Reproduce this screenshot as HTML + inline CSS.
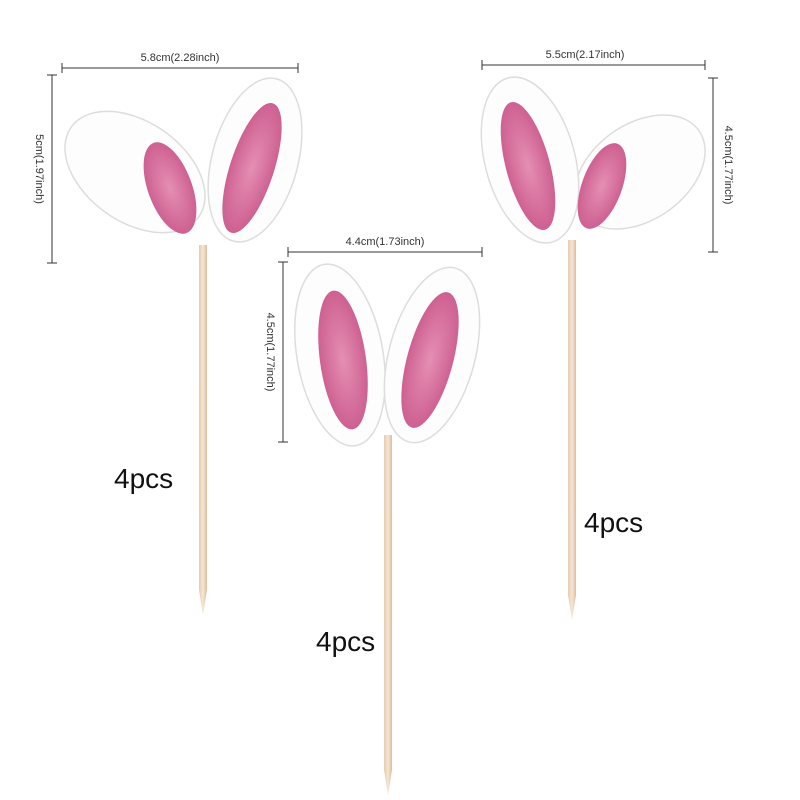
<!DOCTYPE html>
<html><head><meta charset="utf-8"><style>
html,body{margin:0;padding:0;background:#fff;}
svg{display:block;}
text{font-family:"Liberation Sans",sans-serif;}
</style></head><body>
<svg width="800" height="800" viewBox="0 0 800 800" xmlns="http://www.w3.org/2000/svg">
<defs>
<linearGradient id="stick" x1="0" x2="1">
<stop offset="0" stop-color="#e6cbb0"/><stop offset="0.5" stop-color="#f6e6d2"/><stop offset="1" stop-color="#dcbd9f"/>
</linearGradient>
<radialGradient id="pink" cx="0.5" cy="0.5" r="0.6">
<stop offset="0" stop-color="#e58fb4"/><stop offset="1" stop-color="#c9578a"/>
</radialGradient>
</defs>
<g stroke="#333" stroke-width="1" fill="none">
<line x1="62" y1="68" x2="298" y2="68"/><line x1="62" y1="63" x2="62" y2="73"/><line x1="298" y1="63" x2="298" y2="73"/>
<line x1="52" y1="75" x2="52" y2="263"/><line x1="47" y1="75" x2="57" y2="75"/><line x1="47" y1="263" x2="57" y2="263"/>
<line x1="288" y1="252" x2="482" y2="252"/><line x1="288" y1="247" x2="288" y2="257"/><line x1="482" y1="247" x2="482" y2="257"/>
<line x1="283" y1="262" x2="283" y2="442"/><line x1="278" y1="262" x2="288" y2="262"/><line x1="278" y1="442" x2="288" y2="442"/>
<line x1="482" y1="65" x2="705" y2="65"/><line x1="482" y1="60" x2="482" y2="70"/><line x1="705" y1="60" x2="705" y2="70"/>
<line x1="713" y1="78" x2="713" y2="252"/><line x1="708" y1="78" x2="718" y2="78"/><line x1="708" y1="252" x2="718" y2="252"/>
</g>
<g font-size="11" fill="#333" text-anchor="middle">
<text x="180" y="61">5.8cm(2.28inch)</text>
<text x="385" y="245">4.4cm(1.73inch)</text>
<text x="585" y="58">5.5cm(2.17inch)</text>
<text transform="translate(36,169) rotate(90)">5cm(1.97inch)</text>
<text transform="translate(267,352) rotate(90)">4.5cm(1.77inch)</text>
<text transform="translate(725,165) rotate(90)">4.5cm(1.77inch)</text>
</g>
<!-- sticks -->
<path d="M199 245 L207 245 L207 590 L203 615 L199 590 Z" fill="url(#stick)"/>
<path d="M384 435 L392 435 L392 770 L388 795 L384 770 Z" fill="url(#stick)"/>
<path d="M568 240 L576 240 L576 595 L572 620 L568 595 Z" fill="url(#stick)"/>
<!-- left topper -->
<g stroke="#ddd" stroke-width="1.5" fill="#fdfdfd">
<ellipse cx="135" cy="172" rx="78" ry="50" transform="rotate(35 135 172)"/>
<ellipse cx="255" cy="160" rx="43" ry="84" transform="rotate(15 255 160)"/>
</g>
<ellipse cx="170" cy="188" rx="22" ry="48" transform="rotate(-20 170 188)" fill="url(#pink)"/>
<ellipse cx="252" cy="168" rx="22" ry="68" transform="rotate(18 252 168)" fill="url(#pink)"/>
<!-- middle topper -->
<g stroke="#ddd" stroke-width="1.5" fill="#fdfdfd">
<ellipse cx="340" cy="355" rx="43" ry="92" transform="rotate(-10 340 355)"/>
<ellipse cx="432" cy="355" rx="43" ry="90" transform="rotate(15 432 355)"/>
</g>
<ellipse cx="343" cy="360" rx="23" ry="70" transform="rotate(-8 343 360)" fill="url(#pink)"/>
<ellipse cx="430" cy="360" rx="23" ry="70" transform="rotate(15 430 360)" fill="url(#pink)"/>
<!-- right topper -->
<g stroke="#ddd" stroke-width="1.5" fill="#fdfdfd">
<ellipse cx="640" cy="172" rx="72" ry="48" transform="rotate(-35 640 172)"/>
<ellipse cx="530" cy="160" rx="45" ry="85" transform="rotate(-15 530 160)"/>
</g>
<ellipse cx="528" cy="166" rx="22" ry="66" transform="rotate(-15 528 166)" fill="url(#pink)"/>
<ellipse cx="602" cy="186" rx="20" ry="45" transform="rotate(20 602 186)" fill="url(#pink)"/>
<g font-size="28" fill="#111">
<text x="114" y="488">4pcs</text>
<text x="316" y="651">4pcs</text>
<text x="584" y="532">4pcs</text>
</g>
</svg>
</body></html>
